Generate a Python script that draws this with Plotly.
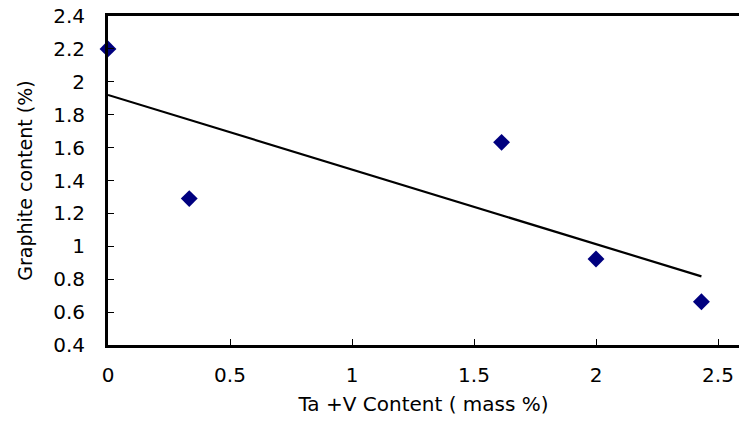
import numpy as np
import plotly.graph_objects as go

ta_v_content = [0.0, 0.333, 1.613, 2.0, 2.432]
graphite_content = [2.2, 1.29, 1.632, 0.923, 0.663]
x_ticks = [0, 0.5, 1, 1.5, 2, 2.5]
x_tick_labels = ["0", "0.5", "1", "1.5", "2", "2.5"]
y_ticks = [0.4, 0.6, 0.8, 1.0, 1.2, 1.4, 1.6, 1.8, 2.0, 2.2, 2.4]
y_tick_labels = ["0.4", "0.6", "0.8", "1", "1.2", "1.4", "1.6", "1.8", "2", "2.2", "2.4"]

slope, intercept = np.polyfit(ta_v_content, graphite_content, 1)
trend_x = [min(ta_v_content), max(ta_v_content)]
trend_y = [slope * v + intercept for v in trend_x]

font = "DejaVu Sans, Arial, sans-serif"

fig = go.Figure()
fig.add_trace(go.Scatter(x=trend_x, y=trend_y, mode="lines",
                         line=dict(color="black", width=2.2), showlegend=False))
fig.add_trace(go.Scatter(x=ta_v_content, y=graphite_content, mode="markers",
                         marker=dict(symbol="diamond", size=13, color="#00007f"),
                         cliponaxis=False, showlegend=False))

fig.update_layout(
    width=739, height=424,
    margin=dict(l=108, r=0, t=16, b=79),
    paper_bgcolor="white", plot_bgcolor="white",
    font=dict(family=font, size=20, color="black"),
    xaxis=dict(range=[0, 2.586], tickvals=x_ticks, ticktext=x_tick_labels,
               automargin=False,
               showgrid=False, zeroline=False, showline=True, linecolor="black",
               linewidth=3, mirror=True, ticks="inside", ticklen=6,
               tickcolor="black", tickwidth=1, ticklabelstandoff=10,
               title=dict(text="Ta +V Content ( mass %)", standoff=11,
                          font=dict(size=20))),
    yaxis=dict(range=[0.4, 2.4], tickvals=y_ticks, ticktext=y_tick_labels,
               automargin=False,
               showgrid=False, zeroline=False, showline=True, linecolor="black",
               linewidth=3, ticks="inside", ticklen=6,
               tickcolor="black", tickwidth=1, ticklabelstandoff=16,
               title=dict(text="Graphite content (%)", standoff=16,
                          font=dict(size=19))),
)

fig.write_html("out.html",
               config={"displayModeBar": False},
               post_script="document.body.style.margin='0';"
                           "document.body.style.padding='0';")
